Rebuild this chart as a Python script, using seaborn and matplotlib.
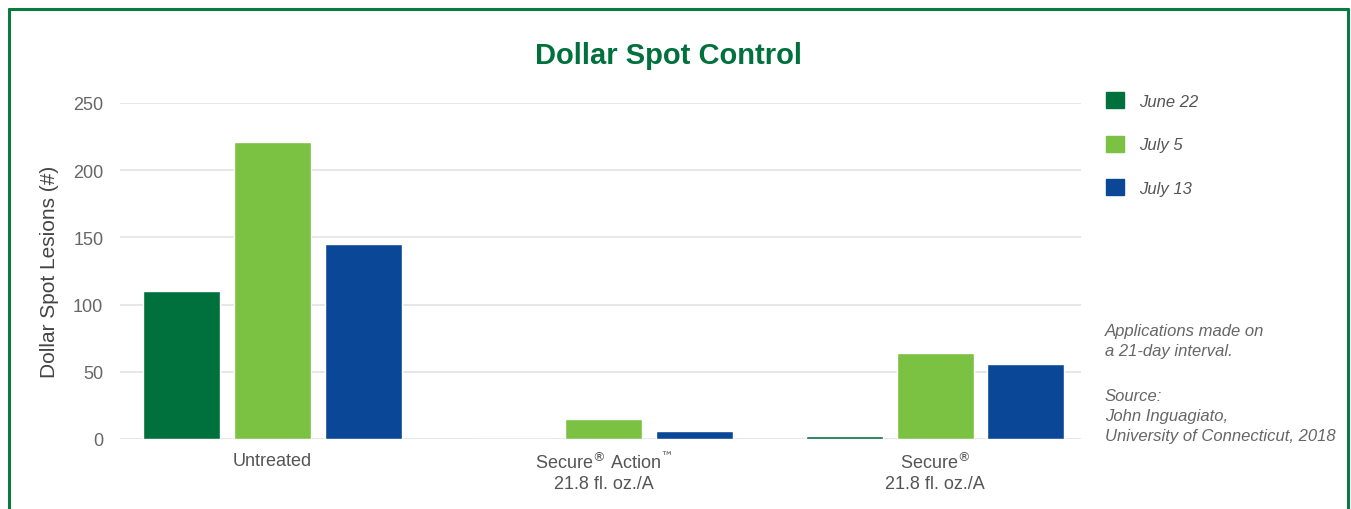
import numpy as np
import pandas as pd
import matplotlib
matplotlib.use("Agg")
import matplotlib.pyplot as plt
import seaborn as sns
from matplotlib.lines import Line2D

# ---------------------------------------------------------------------
# DATA
# ---------------------------------------------------------------------
treatments = [
    "Untreated",
    "Secure$^{®}$ Action$^{™}$\n21.8 fl. oz./A",
    "Secure$^{®}$\n21.8 fl. oz./A",
]
dates = ["June 22", "July 5", "July 13"]
june_22 = [110, 0, 2]
july_5 = [221, 15, 64]
july_13 = [145, 6, 56]
colors = ["#00703c", "#7bc142", "#0a4897"]
y_ticks = [0, 50, 100, 150, 200, 250]

rows = []
for date, vals in zip(dates, [june_22, july_5, july_13]):
    for t, v in zip(treatments, vals):
        rows.append({"Treatment": t, "Date": date, "Lesions": v})
df = pd.DataFrame(rows)

# ---------------------------------------------------------------------
# PLOT
# ---------------------------------------------------------------------
sns.set_style("white")
plt.rcParams["font.family"] = ["Liberation Sans", "DejaVu Sans"]

fig = plt.figure(figsize=(13.51, 5.10), dpi=100)
ax = fig.add_axes([120 / 1351, 1 - 440 / 510, (1081 - 120) / 1351, 336 / 510])

sns.barplot(data=df, x="Treatment", y="Lesions", hue="Date", order=treatments,
            hue_order=dates, palette=colors, width=0.82, gap=0.15,
            saturation=1, ax=ax, legend=True)

ax.set_ylim(0, 250)
ax.set_xlim(-0.46, 2.44)
ax.set_yticks(y_ticks)
ax.yaxis.grid(True, color="#e3e3e3", linewidth=1.2)
ax.set_axisbelow(True)
for s in ax.spines.values():
    s.set_visible(False)
ax.tick_params(axis="both", length=0, labelsize=13, labelcolor="#555555")
ax.tick_params(axis="y", pad=12, labelcolor="#666666")
ax.tick_params(axis="x", pad=9)
ax.set_xlabel("")
ax.set_ylabel("Dollar Spot Lesions (#)", fontsize=15, color="#444444", labelpad=10)

# legend at the right
handles = [plt.Rectangle((0, 0), 1, 1, color=c) for c in colors]
ax.legend(handles, dates, loc="upper left", bbox_to_anchor=(1091 / 1351, 1 - 78 / 510),
          bbox_transform=fig.transFigure, frameon=False, handlelength=1.1,
          handleheight=1.1, labelspacing=1.62, handletextpad=0.9,
          prop={"size": 12, "style": "italic"}, labelcolor="#555555")

note_kw = dict(fontsize=12, style="italic", color="#666666", va="top", ha="left",
               linespacing=1.4)
fig.text(1105 / 1351, 1 - 324 / 510, "Applications made on\na 21-day interval.", **note_kw)
fig.text(1105 / 1351, 1 - 389 / 510,
         "Source:\nJohn Inguagiato,\nUniversity of Connecticut, 2018", **note_kw)

fig.text(0.495, 1 - 56 / 510, "Dollar Spot Control", ha="center", va="center",
         fontsize=21, fontweight="bold", color="#00703c")

# green frame (bottom edge is cut off)
frame_kw = dict(color="#0a7a43", linewidth=2.2, transform=fig.transFigure)
fig.add_artist(Line2D([9 / 1351, 9 / 1351], [0, 1 - 10 / 510], **frame_kw))
fig.add_artist(Line2D([9 / 1351, 1348 / 1351], [1 - 10 / 510, 1 - 10 / 510], **frame_kw))
fig.add_artist(Line2D([1348 / 1351, 1348 / 1351], [0, 1 - 10 / 510], **frame_kw))

plt.savefig("out.png", dpi=100)
plt.close()
